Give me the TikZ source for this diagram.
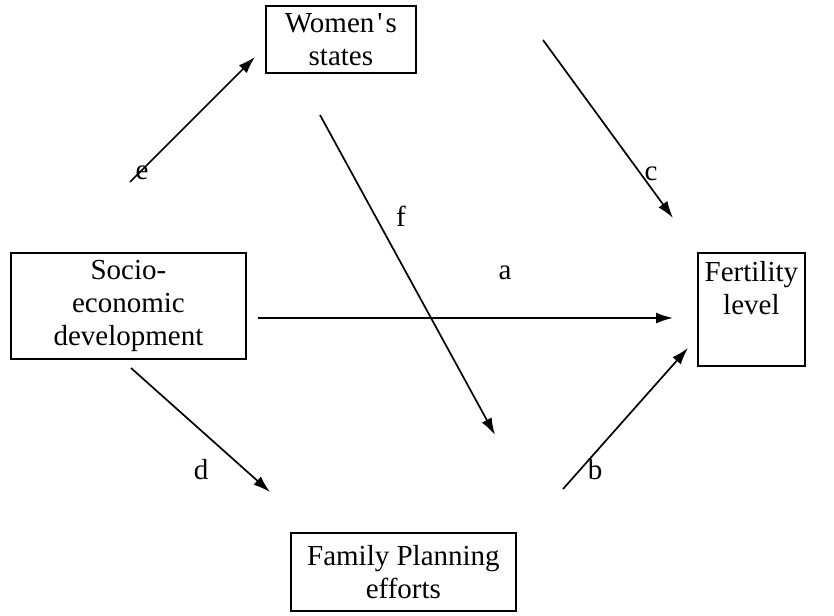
\documentclass[tikz,border=0pt]{standalone}
\usepackage{fontspec}
\setmainfont{Liberation Serif}
\usetikzlibrary{arrows.meta}
\begin{document}
\begin{tikzpicture}[x=1pt,y=-1pt,
  box/.style={draw, line width=1.8pt, align=center, inner sep=0pt, anchor=north west,
    font=\fontsize{29}{33}\selectfont},
  lbl/.style={font=\fontsize{29}{33}\selectfont, inner sep=0pt},
  arr/.style={line width=1.7pt, -{Latex[length=17pt,width=11pt]}}
]
\useasboundingbox (0,0) rectangle (834,615);
\node[box, minimum width=150pt, minimum height=67pt] (women) at (265,5) {Women\hspace{3pt}\textquotesingle\hspace{3pt}s\\states};
\node[box, minimum width=235pt, minimum height=106pt] (socio) at (10,252) {Socio-\\economic\\development};
\node[box, minimum width=107pt, minimum height=113pt] (fert) at (697,252) {};
\node[lbl, align=center, below=9pt] (ferttext) at (fert.north) {Fertility\\level};
\node[box, minimum width=225pt, minimum height=78pt] (fam) at (290,532) {Family Planning\\efforts};

\coordinate (e1) at (130,182); \coordinate (e2) at (255,57);
\coordinate (c1) at (543,40);  \coordinate (c2) at (673,218);
\coordinate (f1) at (320,115); \coordinate (f2) at (495,435);
\coordinate (a1) at (258,318); \coordinate (a2) at (673,318);
\coordinate (d1) at (131,368); \coordinate (d2) at (270,492);
\coordinate (b1) at (563,489); \coordinate (b2) at (688,348);

\draw[arr] (e1) -- (e2);
\draw[arr] (c1) -- (c2);
\draw[arr] (f1) -- (f2);
\draw[arr] (a1) -- (a2);
\draw[arr] (d1) -- (d2);
\draw[arr] (b1) -- (b2);

\node[lbl] (le) at (142,173) {e};
\node[lbl] (lc) at (651,174) {c};
\node[lbl] (lf) at (401,216) {f};
\node[lbl] (la) at (505,273) {a};
\node[lbl] (ld) at (201,470) {d};
\node[lbl] (lb) at (595,470) {b};
\end{tikzpicture}
\end{document}
